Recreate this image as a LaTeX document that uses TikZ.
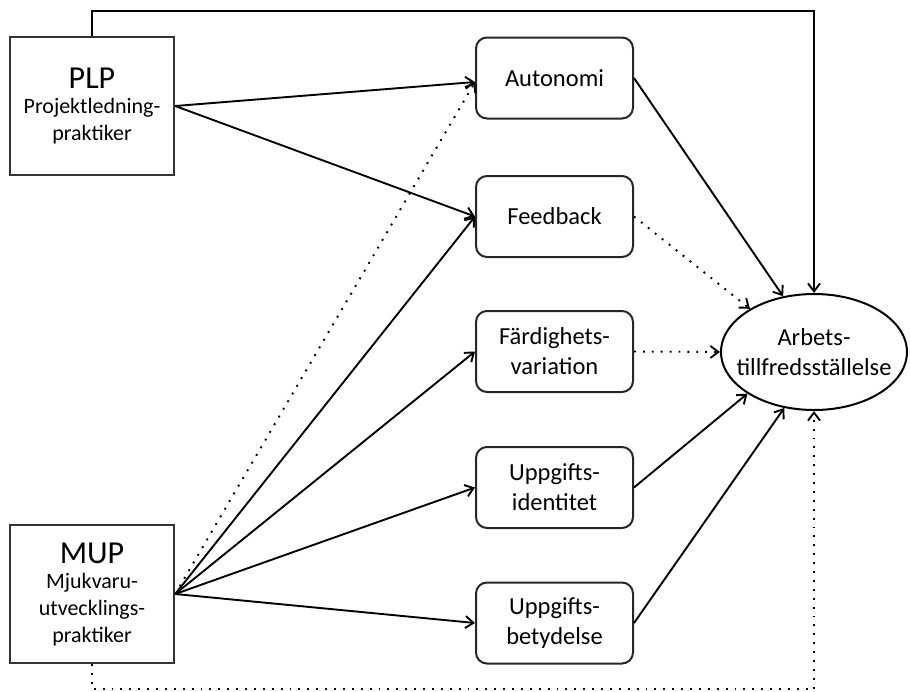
\documentclass[tikz,border=0pt]{standalone}
\usepackage{fontspec}
\setmainfont{Carlito}
\usetikzlibrary{shapes.geometric,arrows.meta}
\begin{document}
\begin{tikzpicture}[x=1pt,y=-1pt,
      every node/.style={font=\fontsize{22}{27}\selectfont},
      ytre/.style={draw=black!80,line width=2.4pt,minimum width=164pt,minimum height=138pt,align=center,inner sep=0pt},
      mitt/.style={draw=black!85,line width=2pt,rounded corners=11pt,minimum width=157pt,minimum height=81pt,align=center,inner sep=0pt,font=\fontsize{24.5}{30}\selectfont},
      mal/.style={draw,ellipse,line width=2pt,minimum width=186pt,minimum height=116pt,inner xsep=-18pt,inner ysep=0pt,align=center,font=\fontsize{24.5}{30}\selectfont},
      pil/.style={line width=1.9pt,-{Straight Barb[length=8pt,width=12pt]}},
      prick/.style={pil,dash pattern=on 1.9pt off 7pt}]
      \useasboundingbox (0,0) rectangle (910,691);
      \node[ytre] (plp) at (92,106) {{\fontsize{32}{34}\selectfont PLP}\\[-2pt]Projektledning-\\praktiker};
      \node[ytre] (mup) at (92,594) {{\fontsize{32}{34}\selectfont MUP}\\[-2pt]Mjukvaru-\\utvecklings-\\praktiker};
      \node[mitt] (auto) at (554.5,78) {Autonomi};
      \node[mitt] (feed) at (554.5,216.5) {Feedback};
      \node[mitt] (fard) at (554.5,351.5) {Färdighets-\\variation};
      \node[mitt] (ident) at (554.5,487.5) {Uppgifts-\\identitet};
      \node[mitt] (bet) at (554.5,623) {Uppgifts-\\betydelse};
      \node[mal] (arb) at (814,352) {Arbets-\\tillfredsställelse};
      % fran PLP
      \draw[pil] (plp.north) -- ++(0,-25) -| (arb.north);
      \draw[pil] (plp.east) -- ([yshift=-4pt]auto.west);
      \draw[pil] (plp.east) -- (feed.west);
      % fran MUP
      \draw[prick] (mup.east) -- ([yshift=-4pt]auto.west);
      \foreach \m in {feed,fard,ident,bet}
        \draw[pil] (mup.east) -- (\m.west);
      \draw[prick] (mup.south) -- ++(0,25) -| (arb.south);
      % till Arbetstillfredsstallelse
      \draw[pil] (auto.east) -- (arb.119);
      \draw[prick] (feed.east) -- (arb.146);
      \draw[prick] (fard.east) -- (arb.west);
      \draw[pil] (ident.east) -- (arb.212);
      \draw[pil] (bet.east) -- (arb.242);
\end{tikzpicture}
\end{document}
